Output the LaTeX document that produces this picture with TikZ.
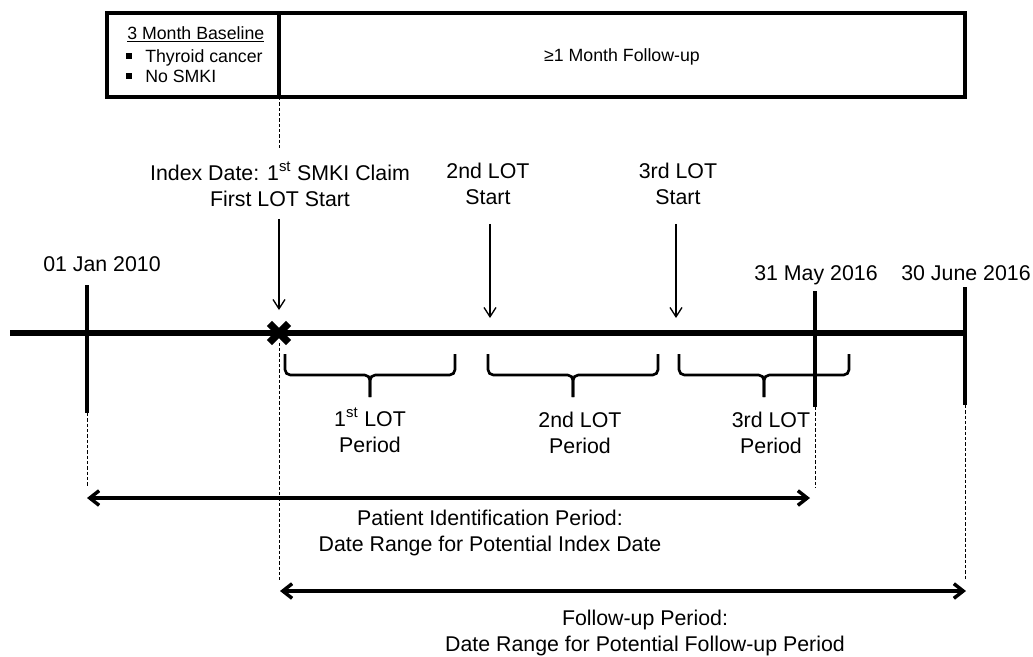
\documentclass[tikz,border=0pt]{standalone}
\usepackage{fontspec}
\setmainfont{Liberation Sans}
\usetikzlibrary{%
    arrows.meta,
    calc,
    positioning
}
\tikzset{timeline/.style = {line width=4.5pt}}
\tikzset{tickline/.style = {line width=2.3pt}}
\tikzset{panel/.style = {line width=2.6pt}}
\tikzset{guide/.style = {line width=0.7pt, dash pattern=on 2.5pt off 1.5pt}}
\tikzset{pointer/.style = {line width=1pt, -{Straight Barb[length=7pt,width=9pt]}}}
\tikzset{span/.style = {line width=2.6pt, {Straight Barb[length=7pt,width=11pt]}-{Straight Barb[length=7pt,width=11pt]}}}
\tikzset{lotbrace/.style = {line width=2pt, rounded corners=4pt}}
\tikzset{caption/.style = {inner sep=0pt, align=center, font=\fontsize{16}{19.5}\selectfont}}
\tikzset{boxtext/.style = {inner sep=0pt, font=\fontsize{13.3}{15}\selectfont}}
\tikzset{bulletsq/.style = {fill, inner sep=0pt, minimum size=4.5pt}}
\tikzset{crossmark/.style = {inner sep=0pt, minimum size=14pt}}

\begin{document}
\begin{tikzpicture}[x=0.75pt, y=-0.75pt]
    \useasboundingbox (0,0) rectangle (1033,657);

    % baseline / follow-up box
    \draw[panel] (107,13) rectangle (965,97);
    \coordinate (split-top) at (279,13);
    \coordinate (split) at (279,97);
    \draw[panel] (split-top) -- (split);
    \node[boxtext, anchor=base west] (baseline) at (127,39) {\underline{3 Month Baseline}};
    \node[boxtext, anchor=base west] (crit1) at (145,62) {Thyroid cancer};
    \node[boxtext, anchor=base west] (crit2) at (145,82) {No SMKI};
    \foreach \Item in {crit1,crit2}
        \node[bulletsq] (\Item-dot) at ($(\Item.base west)+(-16,-6)$) {};
    \node[boxtext, anchor=base] (followup) at (622,61) {≥1 Month Follow-up};

    % study periods (needed by the guides)
    \coordinate (pip-start) at (87,498);
    \coordinate (pip-end) at (810,498);
    \coordinate (fu-start) at (280,591);
    \coordinate (fu-end) at (966,591);

    % timeline
    \coordinate (tl-start) at (10,333);
    \coordinate (tl-end) at (965,333);
    \draw[timeline] (tl-start) -- (tl-end);

    % date ticks
    \foreach \Name/\X/\Top/\Bot in {%
        jan/87/285/413,
        may/815/291/407,
        june/965/287/405%
        }
        {
        \coordinate (\Name-top) at (\X,\Top);
        \coordinate (\Name-bot) at (\X,\Bot);
        \draw[tickline] (\Name-top) -- (\Name-bot);
        }
    \node[caption, anchor=base] (jan-label) at (102,271) {01 Jan 2010};
    \node[caption, anchor=base] (may-label) at (816,280) {31 May 2016};
    \node[caption, anchor=base] (june-label) at (966,280) {30 June 2016};

    % index date marker
    \node[crossmark] (idx) at (279,333) {};
    \draw[line width=5.5pt] (idx.north west) -- (idx.south east)
                            (idx.south west) -- (idx.north east);

    % LOT starts
    \node[caption, anchor=north] (idx-label) at (280,162) {Index Date: 1\textsuperscript{st} SMKI Claim\\First LOT Start};
    \node[caption, anchor=north] (lot2-label) at (488,163) {2nd LOT\\Start};
    \node[caption, anchor=north] (lot3-label) at (678,163) {3rd LOT\\Start};
    \coordinate (idx-tip) at (279,310);
    \coordinate (lot2-tip) at (490,318);
    \coordinate (lot3-tip) at (676,318);
    \foreach \Name/\Gap in {idx/9pt, lot2/14pt, lot3/14pt}
        \draw[pointer, shorten <=\Gap] (\Name-label.south -| \Name-tip) -- (\Name-tip);

    % dashed guides
    \draw[guide, shorten >=9pt] (split) -- (idx-label.north -| split);
    \draw[guide, shorten >=8pt] (idx.south) -- (idx |- fu-start);
    \draw[guide, shorten >=8pt] (jan-bot) -- (jan-bot |- pip-start);
    \draw[guide, shorten >=8pt] (may-bot) -- (may-bot |- pip-start);
    \draw[guide, shorten >=8pt] (june-bot) -- (june-bot |- fu-start);

    % LOT periods
    \foreach \Left/\Mid/\Right in {285/370/455, 488/573/658, 679/764/849}
        {
        \draw[lotbrace] (\Left,354) -- (\Left,375) -- (\Mid,375) -- (\Mid,397);
        \draw[lotbrace] (\Right,354) -- (\Right,375) -- (\Mid,375) -- (\Mid,397);
        }
    \node[caption, anchor=north] (lot1-period) at (370,408) {1\textsuperscript{st} LOT\\Period};
    \node[caption, anchor=north] (lot2-period) at (580,412) {2nd LOT\\Period};
    \node[caption, anchor=north] (lot3-period) at (771,412) {3rd LOT\\Period};

    % identification and follow-up ranges
    \draw[span] (pip-start) -- (pip-end);
    \draw[span] (fu-start) -- (fu-end);
    \node[caption, anchor=north] (pip-label) at (490,510) {Patient Identification Period:\\Date Range for Potential Index Date};
    \node[caption, anchor=north] (fu-label) at (645,610) {Follow-up Period:\\Date Range for Potential Follow-up Period};
\end{tikzpicture}
\end{document}
